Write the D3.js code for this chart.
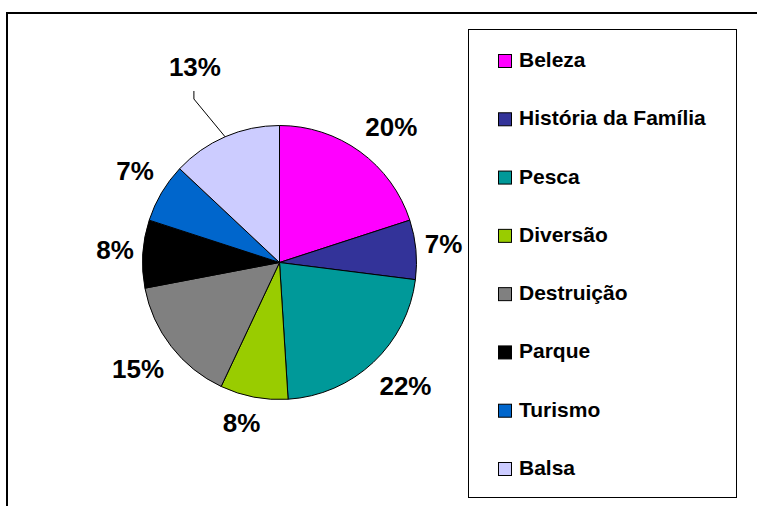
<!DOCTYPE html>
<html>
<head>
<meta charset="utf-8">
<script src="https://cdn.jsdelivr.net/npm/d3@7"></script>
<style>
  body { margin: 0; background: #fff; }
  svg { display: block; font-family: "Liberation Sans", Arial, sans-serif; }
</style>
</head>
<body>
<div id="chart"></div>
<script>
// Données du graphique (pourcentages)
const categories = ["Beleza", "História da Família", "Pesca", "Diversão", "Destruição", "Parque", "Turismo", "Balsa"];
const values = [20, 7, 22, 8, 15, 8, 7, 13];
const colors = ["#ff00ff", "#333399", "#009999", "#99cc00", "#808080", "#000000", "#0066cc", "#ccccff"];

const width = 757, height = 506;
const cx = 279.5, cy = 262.5, radius = 137;
const pulledLabel = "Balsa"; // étiquette déplacée avec trait de rappel

const svg = d3.select("#chart").append("svg")
    .attr("width", width)
    .attr("height", height);

// cadre du graphique (coupé à droite et en bas)
svg.append("rect")
    .attr("x", 7)
    .attr("y", 13)
    .attr("width", width + 20)
    .attr("height", height + 20)
    .style("fill", "none")
    .style("stroke", "#000")
    .style("stroke-width", 2);

const data = categories.map((c, i) => ({ name: c, value: values[i], color: colors[i] }));

const pie = d3.pie()
    .sort(null)
    .value(d => d.value);

const arc = d3.arc()
    .innerRadius(0)
    .outerRadius(radius);

const arcs = pie(data);

const pieGroup = svg.append("g")
    .attr("transform", "translate(" + cx + "," + cy + ")");

pieGroup.selectAll("path")
    .data(arcs)
    .enter()
    .append("path")
    .attr("d", arc)
    .style("fill", d => d.data.color)
    .style("stroke", "#000")
    .style("stroke-width", 1);

// étiquettes de pourcentage
const total = d3.sum(values);
const labelGap = 146, boxH = 34, capH = 18;
const clamp = v => Math.max(-1, Math.min(1, v));

arcs.forEach(function(d) {
    const a = (d.startAngle + d.endAngle) / 2;
    const txt = pieGroup.append("text")
        .attr("text-anchor", "middle")
        .style("font-size", "26px")
        .style("font-weight", "bold")
        .style("fill", "#000")
        .text(Math.round(d.data.value / total * 100) + "%");
    const w = txt.node().getComputedTextLength();
    let lx, ly;
    if (d.data.name === pulledLabel) {
        const r = radius * 1.555;
        lx = Math.sin(a) * r;
        ly = -Math.cos(a) * r;
        // trait de rappel
        const p0 = [Math.sin(a) * radius, -Math.cos(a) * radius];
        pieGroup.append("polyline")
            .attr("points", [p0, [lx - 1, ly + 32], [lx - 1, ly + 24]].map(p => p.join(",")).join(" "))
            .style("fill", "none")
            .style("stroke", "#000")
            .style("stroke-width", 1);
    } else {
        lx = Math.sin(a) * labelGap + clamp(Math.sin(a) * 3) * w / 2;
        ly = -Math.cos(a) * labelGap - clamp(Math.cos(a) * 3) * boxH / 2;
    }
    txt.attr("x", lx).attr("y", ly + capH / 2);
});

// légende
const legendBox = { x: 468.5, y: 29.5, w: 268, h: 468 };
const legend = svg.append("g");

legend.append("rect")
    .attr("x", legendBox.x)
    .attr("y", legendBox.y)
    .attr("width", legendBox.w)
    .attr("height", legendBox.h)
    .style("fill", "#fff")
    .style("stroke", "#000")
    .style("stroke-width", 1);

const legendY = d3.scalePoint()
    .domain(categories)
    .range([67, 475]);

const items = legend.selectAll("g.item")
    .data(data)
    .enter()
    .append("g")
    .attr("class", "item")
    .attr("transform", d => "translate(498," + legendY(d.name) + ")");

items.append("rect")
    .attr("x", 0.5)
    .attr("y", -12.5)
    .attr("width", 13)
    .attr("height", 13)
    .style("fill", d => d.color)
    .style("stroke", "#000")
    .style("stroke-width", 1);

items.append("text")
    .attr("x", 21)
    .attr("y", 0)
    .style("font-size", "21px")
    .style("font-weight", "bold")
    .style("fill", "#000")
    .text(d => d.name);
</script>
</body>
</html>
